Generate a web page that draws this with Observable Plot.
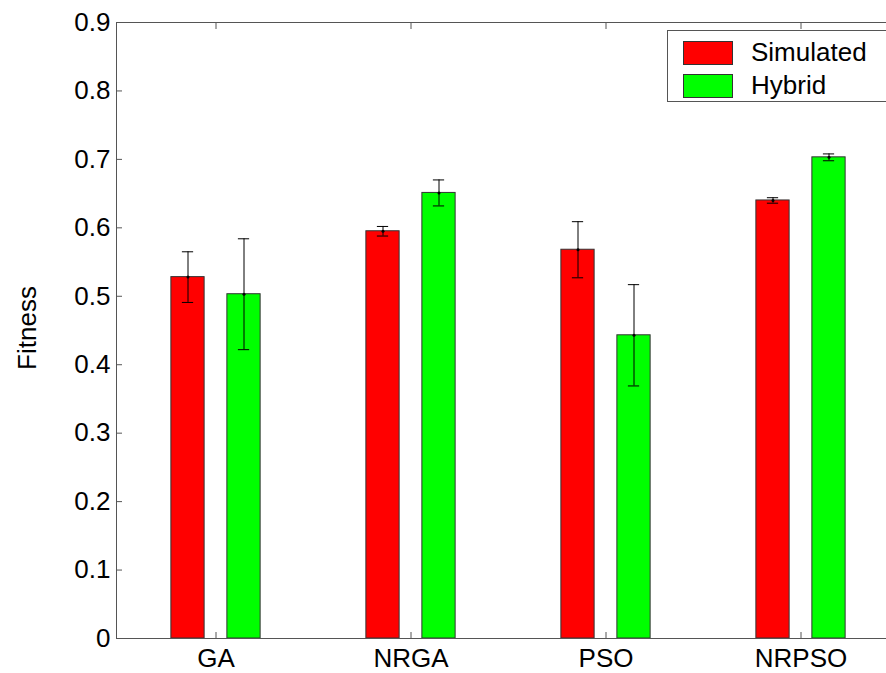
<!DOCTYPE html>
<html>
<head>
<meta charset="utf-8">
<script src="https://cdn.jsdelivr.net/npm/d3@7"></script>
<script src="https://cdn.jsdelivr.net/npm/@observablehq/plot@0.6"></script>
<style>
  html, body { margin: 0; padding: 0; background: #fff; overflow: hidden; }
  #wrap { position: relative; width: 886px; height: 673px; overflow: hidden; font-family: "Liberation Sans", Arial, sans-serif; }
  #legend { position: absolute; left: 667px; top: 30px; width: 240px; height: 72px; border: 1px solid #555; background: #fff; box-sizing: border-box; }
  .row { position: absolute; left: 15px; display: flex; align-items: center; font-size: 26px; color: #000; }
  .sw { width: 50px; height: 24px; border: 1px solid #333; box-sizing: border-box; margin-right: 18px; }
  #ylabel { position: absolute; left: 27px; top: 328px; transform: translate(-50%, -50%) rotate(-90deg); font-size: 26px; color: #000; white-space: nowrap; }
</style>
</head>
<body>
<div id="wrap">
  <div id="chart"></div>
  <div id="ylabel"></div>
  <div id="legend"></div>
</div>
<script>
const categories = ["GA", "NRGA", "PSO", "NRPSO"];
const seriesNames = ["Simulated", "Hybrid"];
const simulated = [0.528, 0.595, 0.568, 0.640];
const simulatedErr = [0.037, 0.007, 0.041, 0.004];
const hybrid = [0.503, 0.651, 0.443, 0.703];
const hybridErr = [0.081, 0.019, 0.074, 0.005];
const yTicks = [0, 0.1, 0.2, 0.3, 0.4, 0.5, 0.6, 0.7, 0.8, 0.9];
const yLabel = "Fitness";
const colors = ["#ff0000", "#00ff00"];

const rows = [];
categories.forEach((c, i) => {
  rows.push({cat: c, series: seriesNames[0], value: simulated[i], lo: simulated[i] - simulatedErr[i], hi: simulated[i] + simulatedErr[i]});
  rows.push({cat: c, series: seriesNames[1], value: hybrid[i], lo: hybrid[i] - hybridErr[i], hi: hybrid[i] + hybridErr[i]});
});

const W = 886, H = 673;
const mL = 116, mR = -13, mT = 22, mB = 35;
const band = (W - mR - mL) / categories.length;
const barW = 34, off = 28, capW = 12;
const barInset = (band - barW) / 2;
const capInset = (band - capW) / 2;
const fontSize = 26;

function seriesMarks(name, dx) {
  const d = rows.filter(r => r.series === name);
  return [
    Plot.barY(d, {x: "cat", y: "value", fill: "series", stroke: "#333", strokeWidth: 1, insetLeft: barInset, insetRight: barInset, dx}),
    Plot.ruleX(d, {x: "cat", y1: "lo", y2: "hi", stroke: "#000", strokeWidth: 1, dx}),
    Plot.tickY(d, {x: "cat", y: "hi", stroke: "#000", strokeWidth: 1, insetLeft: capInset, insetRight: capInset, dx}),
    Plot.tickY(d, {x: "cat", y: "lo", stroke: "#000", strokeWidth: 1, insetLeft: capInset, insetRight: capInset, dx}),
    Plot.dot(d, {x: "cat", y: "value", r: 1.5, fill: "#000", dx})
  ];
}

const chart = Plot.plot({
  width: W,
  height: H,
  marginLeft: mL,
  marginRight: mR,
  marginTop: mT,
  marginBottom: mB,
  style: {fontFamily: "'Liberation Sans', Arial, sans-serif", fontSize: fontSize + "px", color: "#000", background: "#fff", overflow: "visible"},
  x: {domain: categories, padding: 0},
  y: {domain: [0, 0.9]},
  color: {domain: seriesNames, range: colors},
  marks: [
    ...seriesMarks(seriesNames[0], -off),
    ...seriesMarks(seriesNames[1], off),
    Plot.frame({stroke: "#555", strokeWidth: 1}),
    Plot.axisY({ticks: yTicks, tickSize: -6, tickPadding: 12, tickFormat: d => String(+d.toFixed(1)), stroke: "#555", fontSize: fontSize, label: null}),
    Plot.axisX({anchor: "bottom", tickSize: -6, tickPadding: 16, stroke: "#555", fontSize: fontSize, label: null}),
    Plot.axisX({anchor: "top", tickSize: -6, tickFormat: () => "", stroke: "#555", label: null})
  ]
});
document.getElementById("chart").appendChild(chart);
document.getElementById("ylabel").textContent = yLabel;

const legend = document.getElementById("legend");
seriesNames.forEach((s, i) => {
  const row = document.createElement("div");
  row.className = "row";
  row.style.top = (6 + i * 33) + "px";
  const sw = document.createElement("div");
  sw.className = "sw";
  sw.style.background = colors[i];
  const t = document.createElement("span");
  t.textContent = s;
  row.appendChild(sw);
  row.appendChild(t);
  legend.appendChild(row);
});
</script>
</body>
</html>
